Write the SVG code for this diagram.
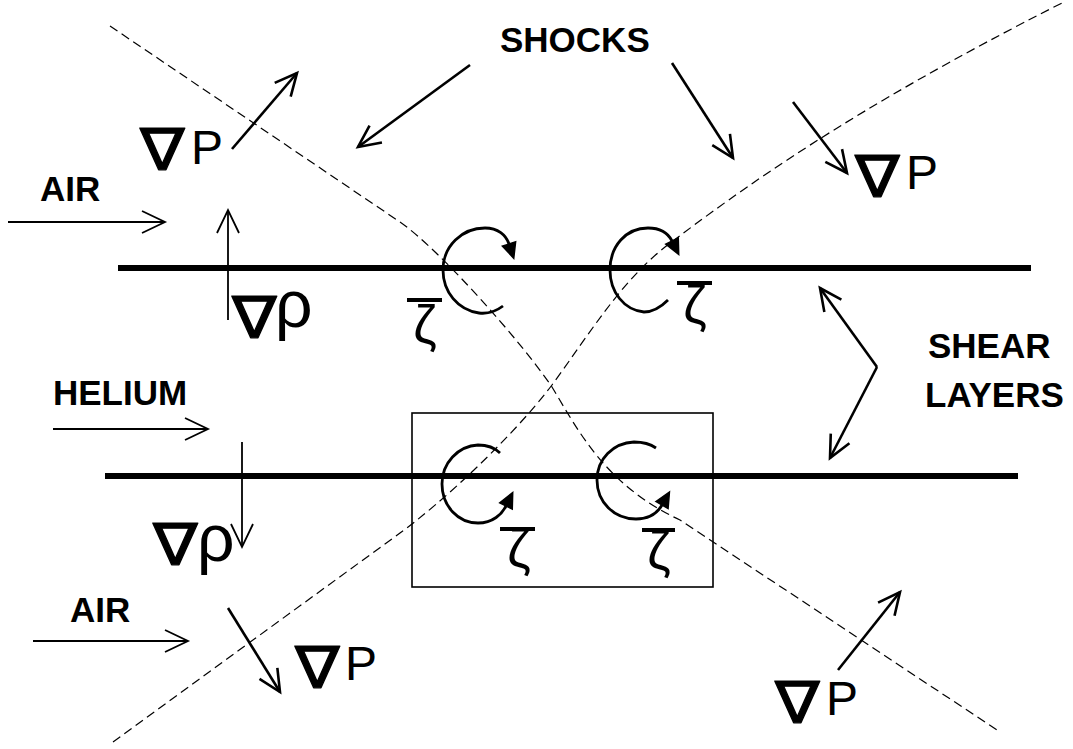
<svg xmlns="http://www.w3.org/2000/svg" width="1073" height="749" viewBox="0 0 1073 749">
<style>
.dash{fill:none;stroke:#000;stroke-width:1.2;stroke-dasharray:9 5}
.layer{stroke:#000;stroke-width:6;fill:none}
.arr{fill:none;stroke:#000;stroke-width:2.6;marker-end:url(#open)}
.thin{fill:none;stroke:#000;stroke-width:1.8;marker-end:url(#openthin)}
.curl{fill:none;stroke:#000;stroke-width:2.8;marker-end:url(#curlhead)}
.lbl{font-family:"Liberation Sans",Arial,sans-serif;font-weight:bold;font-size:35px;fill:#000}
.nab{font-family:"DejaVu Sans",sans-serif;font-size:58px;fill:#000;stroke:#000;stroke-width:1.2;stroke-linejoin:round}
.sym{font-family:"Liberation Sans",Arial,sans-serif;font-size:48px;fill:#000}
.rho{font-family:"Liberation Sans",Arial,sans-serif;font-size:66px;fill:#000}
.zeta{font-family:"Liberation Sans",Arial,sans-serif;font-size:53px;fill:#000;text-anchor:middle}
.bar{stroke:#000;stroke-width:4}
.box{fill:none;stroke:#000;stroke-width:1.6}
</style>
<defs>
<marker id="open" markerUnits="userSpaceOnUse" markerWidth="30" markerHeight="30" viewBox="-26 -15 30 30" refX="0" refY="0" orient="auto"><path d="M-22,-10.5 L0,0 L-22,10.5" fill="none" stroke="#000" stroke-width="2.6"/></marker>
<marker id="openthin" markerUnits="userSpaceOnUse" markerWidth="30" markerHeight="30" viewBox="-26 -15 30 30" refX="0" refY="0" orient="auto"><path d="M-23,-11 L0,0 L-23,11" fill="none" stroke="#000" stroke-width="1.8"/></marker>
<marker id="curlhead" markerUnits="userSpaceOnUse" markerWidth="24" markerHeight="24" viewBox="-4 -12 24 24" refX="0" refY="0" orient="auto"><path d="M0,-7 L15,0 L0,7 Z" fill="#000" stroke="#000" stroke-width="1.5" stroke-linejoin="miter"/></marker>
</defs>
<rect width="1073" height="749" fill="#fff"/>

<g id="shocks-lines">
<path class="dash" d="M110,26 L400,222 C440,250 520,340 552,387 C578,430 605,485 680,520 L997,730"/>
<path class="dash" d="M113,742 L400,533 C440,504 510,440 552,385 C590,333 620,283 665,247 C740,190 850,110 1062,3"/>
</g>

<g id="shear-layers">
<line class="layer" x1="118" y1="268" x2="1031" y2="268"/>
<line class="layer" x1="105" y1="476" x2="1018" y2="476"/>
</g>

<g id="box"><rect class="box" x="412" y="413" width="301" height="174"/></g>

<g id="connectors">
<line class="thin" x1="8" y1="222" x2="165" y2="222"/>
<line class="thin" x1="53" y1="429" x2="208" y2="429"/>
<line class="thin" x1="33" y1="641" x2="188" y2="641"/>
<line class="thin" x1="228" y1="320" x2="228" y2="210"/>
<line class="thin" x1="242" y1="442" x2="242" y2="547"/>
<line class="arr" x1="232" y1="149" x2="297" y2="73"/>
<line class="arr" x1="793" y1="102" x2="847" y2="173"/>
<line class="arr" x1="228" y1="608" x2="280" y2="692"/>
<line class="arr" x1="838" y1="670" x2="900" y2="592"/>
<line class="arr" x1="470" y1="65" x2="358" y2="147"/>
<line class="arr" x1="672" y1="63" x2="733" y2="158"/>
<polyline class="arr" points="877,367 820,288"/>
<polyline class="arr" points="877,367 830,458"/>
<path class="curl" d="M503,306 C495,312 487,314 479,313 C458,310 443,292 443,270 C443,246 462,228 485,228 C498,228 506,235 509,244"/>
<path class="curl" d="M668,300 C660,308 652,312 644,312 C624,310 610,292 610,270 C610,246 626,228 648,228 C660,228 668,233 672,241"/>
<path class="curl" d="M500,453 C494,447 486,445 478,445 C458,446 442,463 442,484 C442,506 458,523 478,523 C493,523 502,514 506,506"/>
<path class="curl" d="M656,448 C649,443 641,442 634,442 C613,443 597,459 597,480 C597,502 614,519 636,519 C650,519 658,512 662,505"/>
</g>

<g id="label-shocks"><text class="lbl" x="500" y="52">SHOCKS</text></g>
<g id="label-air-top"><text class="lbl" x="40" y="201">AIR</text></g>
<g id="label-helium"><text class="lbl" x="53" y="405">HELIUM</text></g>
<g id="label-air-bottom"><text class="lbl" x="70" y="622">AIR</text></g>
<g id="label-shear"><text class="lbl" x="928" y="358">SHEAR</text><text class="lbl" x="925" y="407">LAYERS</text></g>

<g id="gradP-ul"><text class="nab" transform="translate(140,170) scale(1.15,1)">∇</text><text class="sym" x="191" y="164">P</text></g>
<g id="gradP-ur"><text class="nab" transform="translate(855,197) scale(1.15,1)">∇</text><text class="sym" x="906" y="189">P</text></g>
<g id="gradP-ll"><text class="nab" transform="translate(295,688) scale(1.15,1)">∇</text><text class="sym" x="345" y="680">P</text></g>
<g id="gradP-lr"><text class="nab" transform="translate(775,723) scale(1.15,1)">∇</text><text class="sym" x="826" y="715">P</text></g>
<g id="gradRho-u"><text class="nab" transform="translate(232,338) scale(1.15,1)">∇</text><text class="rho" x="275" y="327">ρ</text></g>
<g id="gradRho-l"><text class="nab" transform="translate(153,565) scale(1.15,1)">∇</text><text class="rho" x="197" y="561">ρ</text></g>

<g id="zeta-ul"><line class="bar" x1="407" y1="300" x2="442" y2="300"/><text class="zeta" x="425" y="343">ζ</text></g>
<g id="zeta-ur"><line class="bar" x1="677" y1="283" x2="712" y2="283"/><text class="zeta" x="695" y="323">ζ</text></g>
<g id="zeta-ll"><line class="bar" x1="500" y1="529" x2="535" y2="529"/><text class="zeta" x="519" y="567">ζ</text></g>
<g id="zeta-lr"><line class="bar" x1="642" y1="530" x2="675" y2="530"/><text class="zeta" x="659" y="569">ζ</text></g>
</svg>
